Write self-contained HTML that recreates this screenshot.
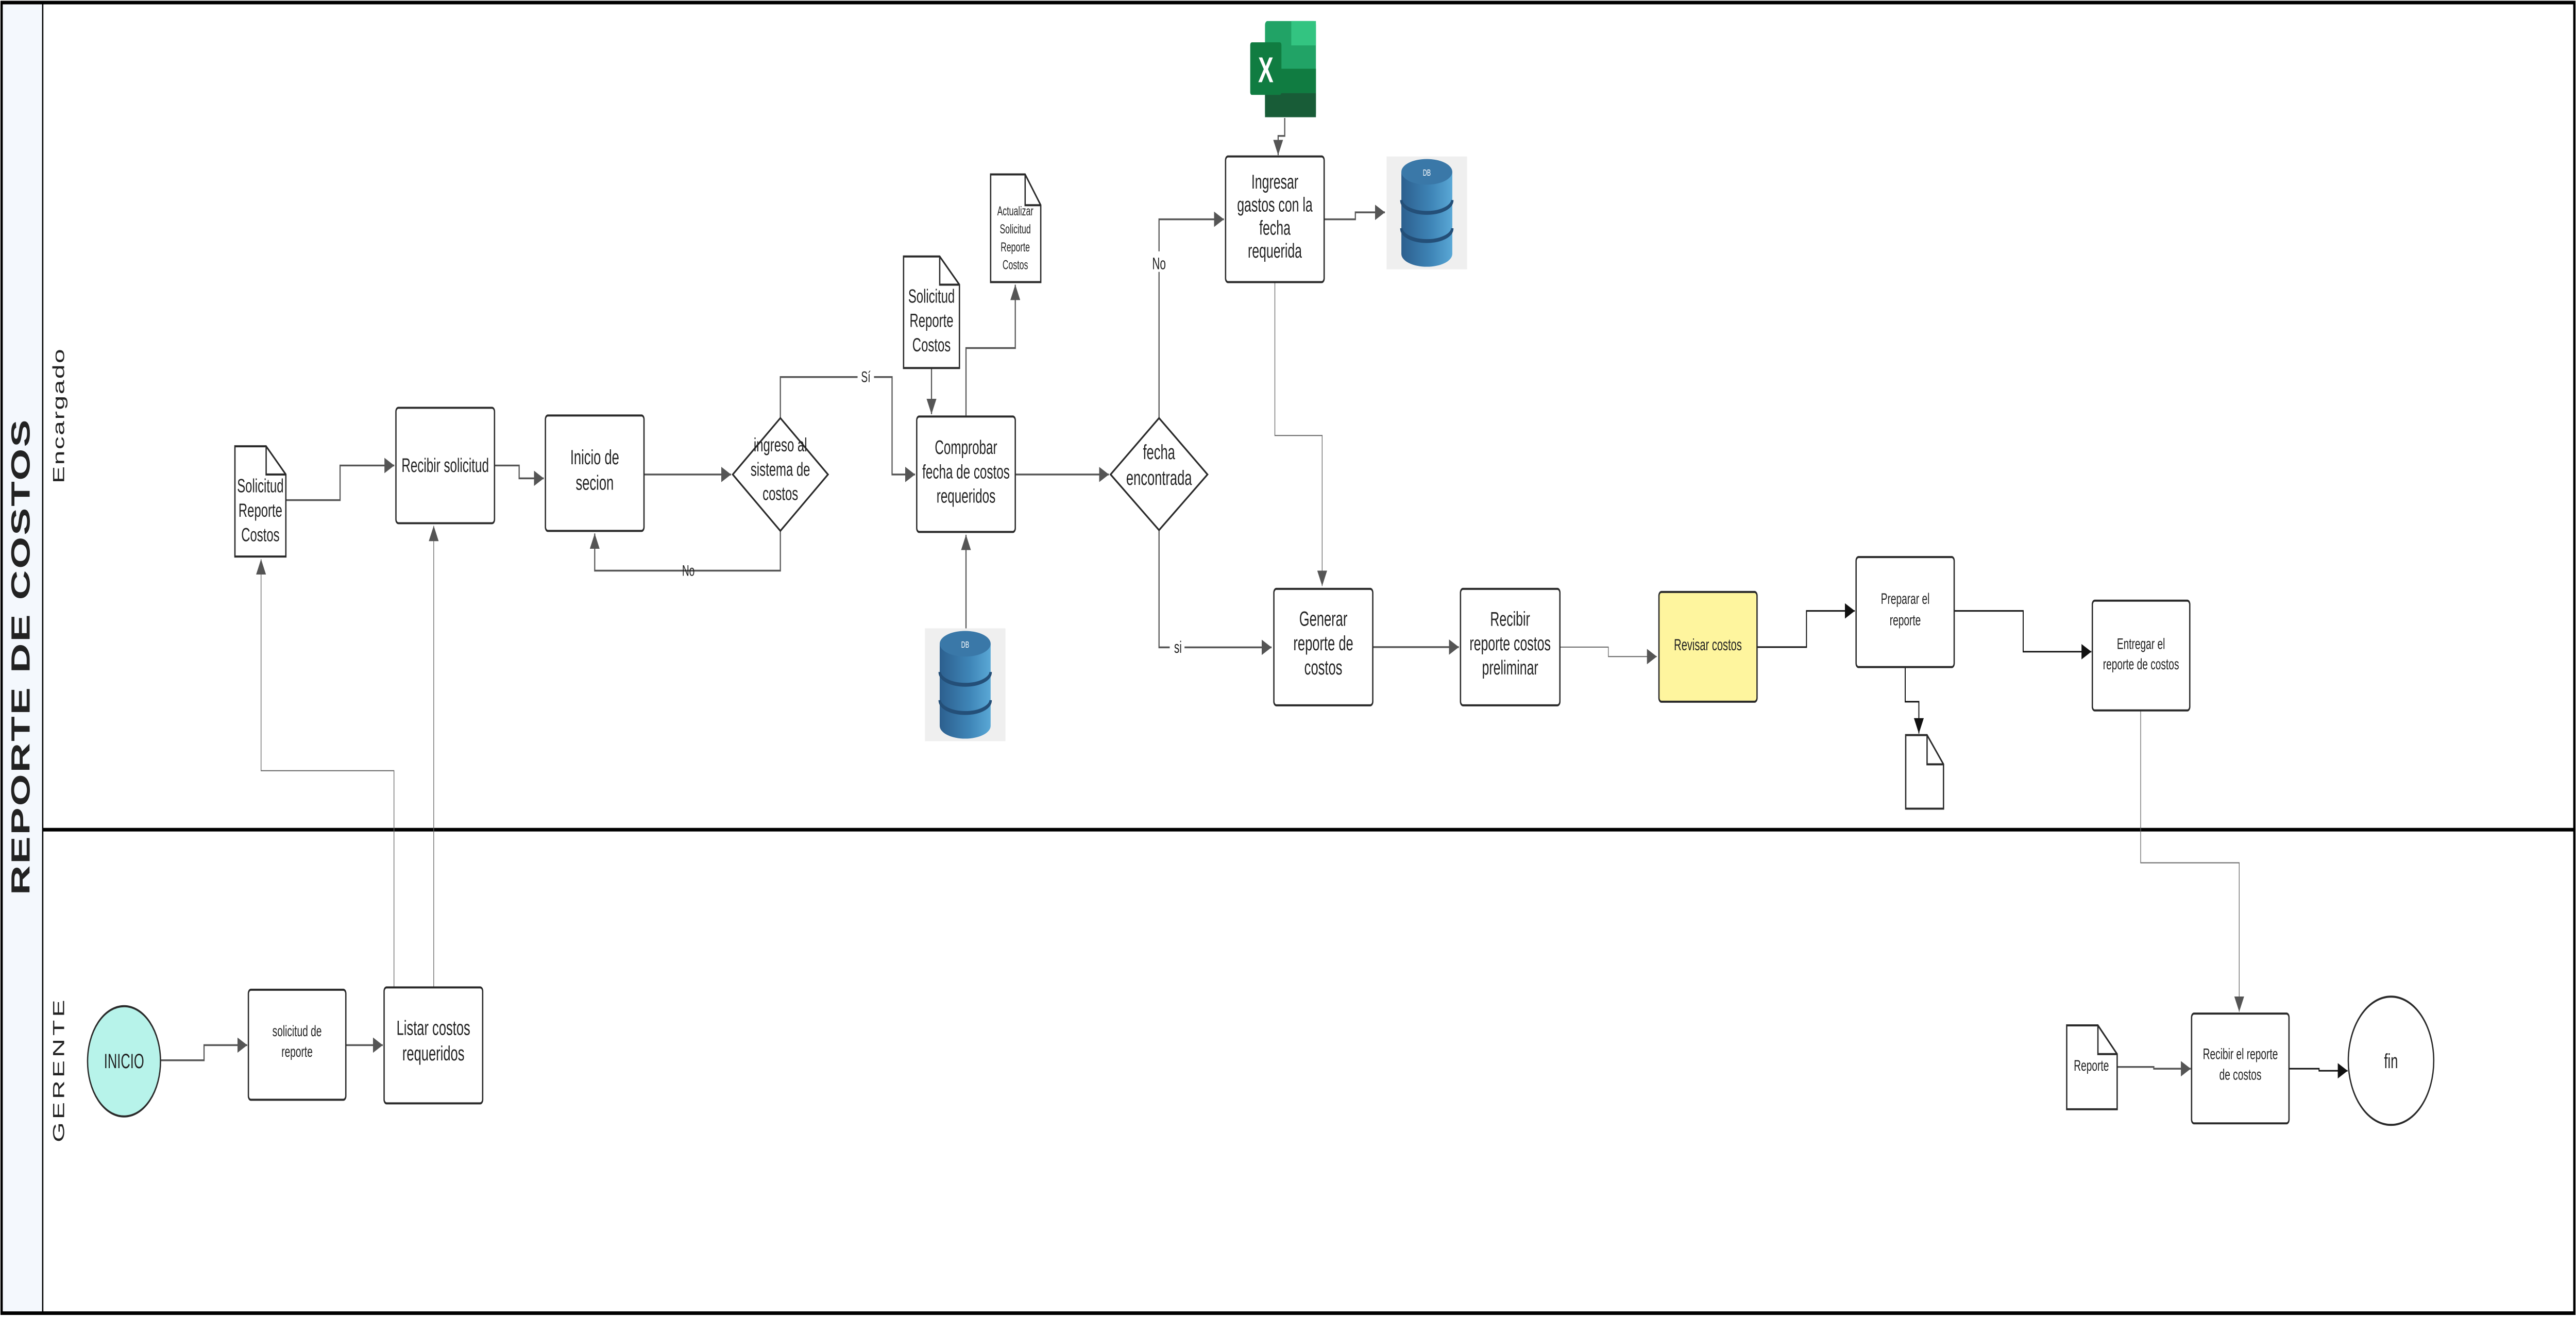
<!DOCTYPE html>
<html><head><meta charset="utf-8"><style>
html,body{margin:0;padding:0;background:#fff;width:100%;height:100%;overflow:hidden;}
svg{display:block;width:100vw;height:100vh;}
text{font-family:"Liberation Sans Narrow","Liberation Sans",sans-serif;fill:#222;text-anchor:middle;}
.b{fill:#fff;stroke:#2a2a2a;stroke-width:0.8;}
.l{fill:none;stroke:#555;stroke-width:0.7;}
.lt{fill:none;stroke:#666;stroke-width:0.4;}
.lk{fill:none;stroke:#111;stroke-width:0.6;}
</style></head><body>
<svg viewBox="0 0 1568 513.5" preserveAspectRatio="none" xmlns="http://www.w3.org/2000/svg">
<defs>
<marker id="a" markerUnits="userSpaceOnUse" markerWidth="7" markerHeight="6" refX="6" refY="3" orient="auto"><path d="M0,0 L6,3 L0,6 z" fill="#555"/></marker>
<marker id="k" markerUnits="userSpaceOnUse" markerWidth="7" markerHeight="6" refX="6" refY="3" orient="auto"><path d="M0,0 L6,3 L0,6 z" fill="#111"/></marker>
<linearGradient id="cy" x1="0" x2="1"><stop offset="0" stop-color="#2c5f8e"/><stop offset="0.6" stop-color="#3f86b8"/><stop offset="1" stop-color="#5aa8d6"/></linearGradient>
<g id="db">
<rect x="0" y="0" width="49" height="44" fill="#efefef"/>
<path d="M9,6 v32 a15.5,5 0 0 0 31,0 v-32 z" fill="url(#cy)"/>
<path d="M9,17 a15.5,5 0 0 0 31,0 M9,28 a15.5,5 0 0 0 31,0" fill="none" stroke="#244f78" stroke-width="1.5"/>
<ellipse cx="24.5" cy="6" rx="15.5" ry="5" fill="#3a78a8"/>
<text x="24.5" y="7.5" font-size="3.5" style="fill:#fff">DB</text>
</g>
</defs>

<rect x="1" y="1" width="1566" height="511" fill="#fff" stroke="#000" stroke-width="1.4"/>
<rect x="1.7" y="1.7" width="24.3" height="509.6" fill="#f4f8fd"/>
<line x1="26" y1="1" x2="26" y2="512" stroke="#000" stroke-width="0.8"/>
<line x1="26" y1="323.5" x2="1567" y2="323.5" stroke="#000" stroke-width="1.4"/>
<text transform="translate(18,256) rotate(-90)" style="font-family:'Liberation Sans',sans-serif;font-weight:bold;letter-spacing:0.6px" font-size="16">REPORTE DE COSTOS</text>
<text transform="translate(39,162) rotate(-90)" style="font-family:'Liberation Sans',sans-serif;letter-spacing:0.5px" font-size="10">Encargado</text>
<text transform="translate(39,417) rotate(-90)" style="font-family:'Liberation Sans',sans-serif;letter-spacing:1.2px" font-size="10">GERENTE</text>

<path class="l" d="M174,195 H207 V181.5 H240" marker-end="url(#a)"/>
<path class="l" d="M301,181.5 H316 V186.5 H331" marker-end="url(#a)"/>
<path class="l" d="M392,185 H445" marker-end="url(#a)"/>
<path class="l" d="M475,207 V222.5 H362 V208" marker-end="url(#a)"/>
<text x="419" y="224.5" font-size="6">No</text>
<path class="l" d="M475,163 V147 H543 V185 H557" marker-end="url(#a)"/>
<rect x="522" y="143" width="10" height="7" fill="#fff"/>
<text x="527" y="149" font-size="6">Sí</text>
<path class="l" d="M567,143.5 V161.5" marker-end="url(#a)"/>
<path class="l" d="M588,162 V135.7 H618 V111" marker-end="url(#a)"/>
<path class="l" d="M588,245 V208.5" marker-end="url(#a)"/>
<path class="l" d="M618,185 H675" marker-end="url(#a)"/>
<path class="l" d="M705.5,163 V85.5 H745" marker-end="url(#a)"/>
<rect x="699" y="98" width="13" height="8" fill="#fff"/>
<text x="705.5" y="105" font-size="6.5">No</text>
<path class="l" d="M705.5,207 V252.4 H774" marker-end="url(#a)"/>
<rect x="712" y="248" width="9" height="8" fill="#fff"/>
<text x="717" y="254.5" font-size="6.5">si</text>
<path class="l" d="M782,46 V53 H778 V60.5" marker-end="url(#a)"/>
<path class="l" d="M806,85.5 H825 V82.8 H843" marker-end="url(#a)"/>
<path class="lt" d="M776,110 V169.8 H804.8 V228.5" marker-end="url(#a)"/>
<path class="l" d="M835.6,252.3 H888" marker-end="url(#a)"/>
<path class="lt" d="M949.5,252.3 H979 V256 H1008.5" marker-end="url(#a)"/>
<path class="lk" d="M1069.5,252.3 H1099.6 V238.2 H1129" marker-end="url(#k)"/>
<path class="lk" d="M1189.5,238.2 H1231.5 V254.1 H1273" marker-end="url(#k)"/>
<path class="lk" d="M1159.7,260 V273.6 H1168 V286" marker-end="url(#k)"/>
<path class="lt" d="M1303,277 V336.4 H1363 V394.5" marker-end="url(#a)"/>

<path class="l" d="M97.6,413.4 H124.2 V407.5 H150.5" marker-end="url(#a)"/>
<path class="l" d="M210.5,407.5 H233" marker-end="url(#a)"/>
<path class="lt" d="M239.8,385 V300.5 H158.9 V218" marker-end="url(#a)"/>
<path class="lt" d="M264,385 V205" marker-end="url(#a)"/>
<path class="l" d="M1288.7,416 H1311 V416.7 H1333.5" marker-end="url(#a)"/>
<path class="lk" d="M1393.3,416.7 H1411.6 V417.5 H1429" marker-end="url(#k)"/>

<path class="b" d="M143,174 H162 L174,185 V217 H143 Z M162,174 V185 H174"/>
<text font-size="7.5"><tspan x="158.5" y="192">Solicitud</tspan><tspan x="158.5" y="201.5">Reporte</tspan><tspan x="158.5" y="211">Costos</tspan></text>
<path class="b" d="M550,100 H572 L584,111 V143.5 H550 Z M572,100 V111 H584"/>
<text font-size="7.5"><tspan x="567" y="118">Solicitud</tspan><tspan x="567" y="127.5">Reporte</tspan><tspan x="567" y="137">Costos</tspan></text>
<path class="b" d="M603,68 H624 L633.5,80 V110 H603 Z M624,68 V80 H633.5"/>
<text font-size="5"><tspan x="618" y="84">Actualizar</tspan><tspan x="618" y="91">Solicitud</tspan><tspan x="618" y="98">Reporte</tspan><tspan x="618" y="105">Costos</tspan></text>
<path class="b" d="M1160,286.6 H1173 L1183,298 V315.3 H1160 Z M1173,286.6 V298 H1183"/>
<path class="b" d="M1258,399.8 H1277 L1288.7,411 V432.5 H1258 Z M1277,399.8 V411 H1288.7"/>
<text x="1273" y="417.5" font-size="6">Reporte</text>

<rect class="b" x="241" y="159" width="60" height="45" rx="1.5"/>
<text x="271" y="184" font-size="7.6">Recibir solicitud</text>
<rect class="b" x="332" y="162" width="60" height="45" rx="1.5"/>
<text font-size="8"><tspan x="362" y="181">Inicio de</tspan><tspan x="362" y="191">secion</tspan></text>
<path class="b" d="M475,163 L504,185 L475,207 L446,185 Z"/>
<text font-size="7.5"><tspan x="475" y="176">ingreso al</tspan><tspan x="475" y="185.5">sistema de</tspan><tspan x="475" y="195">costos</tspan></text>
<rect class="b" x="558" y="162.4" width="60" height="45" rx="1.5"/>
<text font-size="7.6"><tspan x="588" y="177">Comprobar</tspan><tspan x="588" y="186.5">fecha de costos</tspan><tspan x="588" y="196">requeridos</tspan></text>
<path class="b" d="M705.5,163 L735,185 L705.5,206.7 L676,185 Z"/>
<text font-size="8"><tspan x="705.5" y="179">fecha</tspan><tspan x="705.5" y="189">encontrada</tspan></text>
<rect class="b" x="746" y="61" width="60" height="49" rx="1.5"/>
<text font-size="7.8"><tspan x="776" y="73.5">Ingresar</tspan><tspan x="776" y="82.5">gastos con la</tspan><tspan x="776" y="91.5">fecha</tspan><tspan x="776" y="100.5">requerida</tspan></text>
<rect class="b" x="775.4" y="229.6" width="60.2" height="45.4" rx="1.5"/>
<text font-size="8"><tspan x="805.5" y="244">Generar</tspan><tspan x="805.5" y="253.5">reporte de</tspan><tspan x="805.5" y="263">costos</tspan></text>
<rect class="b" x="889" y="229.6" width="60.5" height="45.4" rx="1.5"/>
<text font-size="7.8"><tspan x="919.2" y="244">Recibir</tspan><tspan x="919.2" y="253.5">reporte costos</tspan><tspan x="919.2" y="263">preliminar</tspan></text>
<rect x="1009.8" y="230.8" width="59.7" height="42.8" rx="1.5" fill="#fef59e" stroke="#2a2a2a" stroke-width="0.8"/>
<text x="1039.6" y="253.5" font-size="6.3">Revisar costos</text>
<rect class="b" x="1129.8" y="217.2" width="59.7" height="42.9" rx="1.5"/>
<text font-size="6"><tspan x="1159.7" y="235.5">Preparar el</tspan><tspan x="1159.7" y="243.8">reporte</tspan></text>
<rect class="b" x="1273.6" y="234.2" width="59.3" height="42.8" rx="1.5"/>
<text font-size="6"><tspan x="1303.2" y="253">Entregar el</tspan><tspan x="1303.2" y="261">reporte de costos</tspan></text>

<ellipse cx="75.5" cy="413.8" rx="22.2" ry="21.5" fill="#b7f3ea" stroke="#2a2a2a" stroke-width="0.8"/>
<text x="75.5" y="416.5" font-size="8">INICIO</text>
<rect class="b" x="151.2" y="385.9" width="59.3" height="42.9" rx="1.5"/>
<text font-size="6"><tspan x="180.8" y="404">solicitud de</tspan><tspan x="180.8" y="412">reporte</tspan></text>
<rect class="b" x="233.8" y="385" width="60" height="45.2" rx="1.5"/>
<text font-size="8"><tspan x="263.8" y="403.5">Listar costos</tspan><tspan x="263.8" y="413.5">requeridos</tspan></text>
<rect class="b" x="1334" y="395.2" width="59.3" height="42.8" rx="1.5"/>
<text font-size="6"><tspan x="1363.7" y="413">Recibir el reporte</tspan><tspan x="1363.7" y="421">de costos</tspan></text>
<ellipse cx="1455.4" cy="413.6" rx="26" ry="25" fill="#fff" stroke="#2a2a2a" stroke-width="0.8"/>
<text x="1455.4" y="416.5" font-size="8">fin</text>

<use href="#db" x="844" y="61"/>
<use href="#db" x="563" y="245"/>

<g>
<rect x="770" y="8.2" width="31" height="37.5" rx="1.5" fill="#21a366"/>
<rect x="786" y="8.2" width="15" height="9.5" fill="#33c481"/>
<rect x="770" y="26.8" width="31" height="9.5" fill="#107c41"/>
<rect x="770" y="36.3" width="31" height="9.4" fill="#185c37"/>
<rect x="761" y="16.5" width="19" height="20.5" rx="1" fill="#107c41"/>
<text x="770.5" y="32" font-size="14" style="fill:#fff;font-family:'Liberation Sans',sans-serif;font-weight:bold">X</text>
</g>
</svg>
</body></html>
